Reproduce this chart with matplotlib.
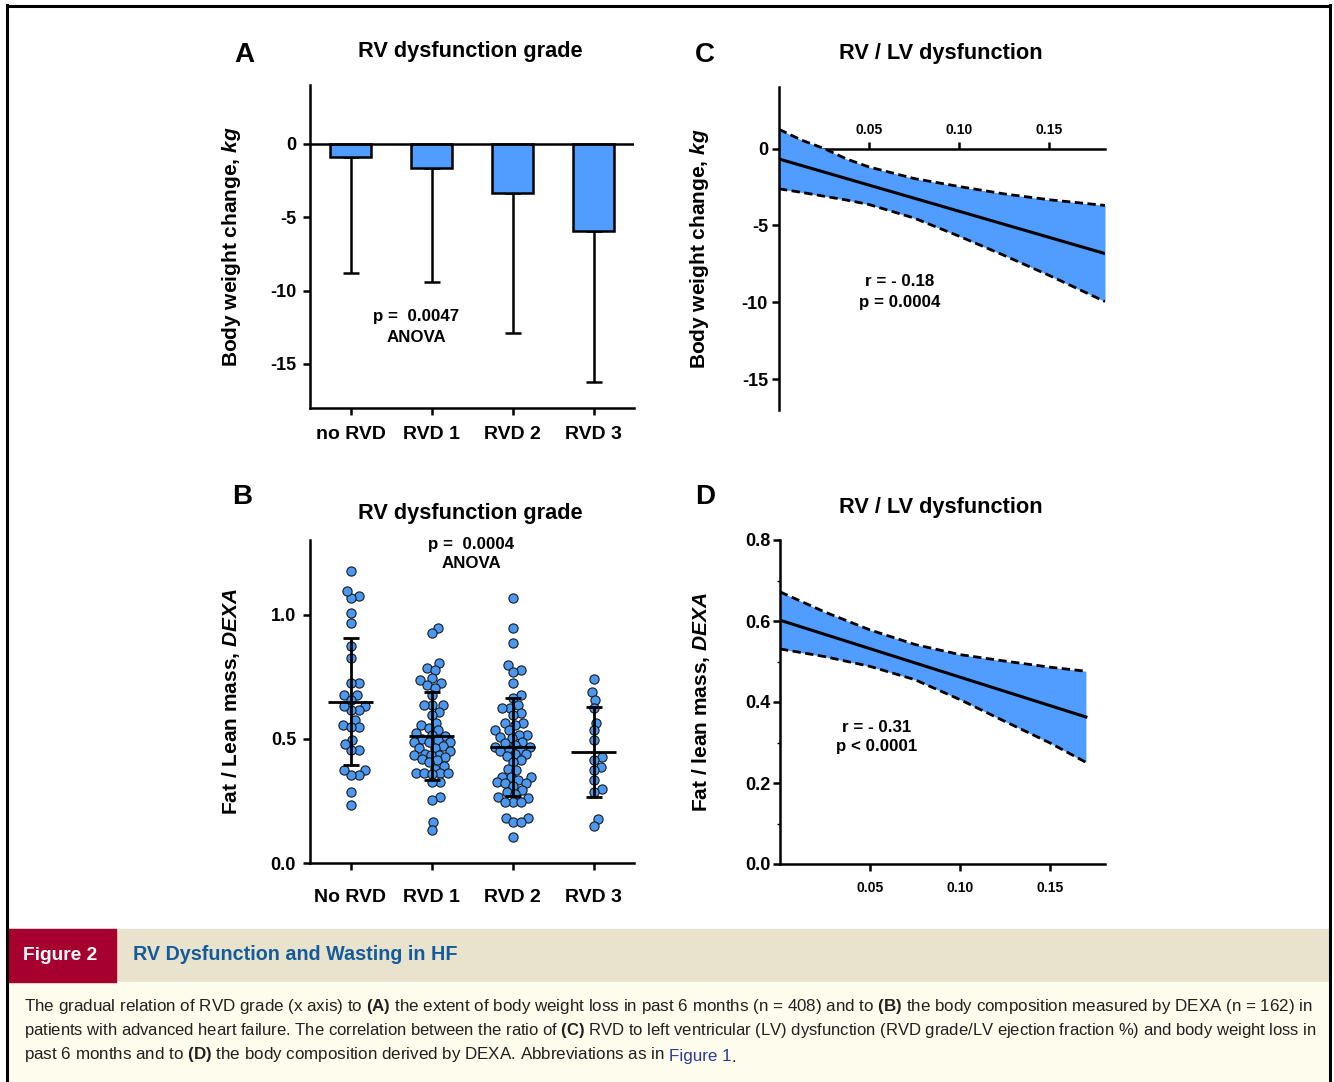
import numpy as np
import matplotlib.pyplot as plt
from matplotlib.lines import Line2D
from matplotlib.patches import Rectangle

W, H = 1334, 1082

plt.rcParams['font.family'] = ['Liberation Sans', 'DejaVu Sans']
plt.rcParams['font.weight'] = 'bold'
plt.rcParams['axes.labelweight'] = 'bold'
plt.rcParams['mathtext.fontset'] = 'custom'
plt.rcParams['mathtext.rm'] = 'Liberation Sans'
plt.rcParams['mathtext.bf'] = 'Liberation Sans:bold'
plt.rcParams['mathtext.it'] = 'Liberation Sans:italic:bold'
plt.rcParams['axes.unicode_minus'] = False

BLUE = '#519dff'
DOT = '#4a98f2'

# ---- data ----
# A: body weight change by RVD grade (mean, lower SD)
grades_a = ['no RVD', 'RVD 1', 'RVD 2', 'RVD 3']
wt_mean = [-0.93, -1.65, -3.35, -5.95]
wt_sd = [7.9, 7.75, 9.55, 10.25]

# B: fat / lean mass, individual patients
grades_b = ['No RVD', 'RVD 1', 'RVD 2', 'RVD 3']
fl_norvd = [1.174, 1.076, 1.066, 1.094, 1.005, 0.967, 0.874, 0.825, 0.724, 0.724,
            0.676, 0.676, 0.657, 0.633, 0.614, 0.614, 0.633, 0.574, 0.556, 0.546,
            0.546, 0.494, 0.454, 0.454, 0.477, 0.376, 0.356, 0.356, 0.373, 0.285, 0.233]
fl_rvd1 = [0.946, 0.925, 0.804, 0.786, 0.775, 0.746, 0.735, 0.726, 0.716, 0.706,
           0.676, 0.635, 0.635, 0.635, 0.606, 0.594, 0.565, 0.556, 0.545, 0.534,
           0.525, 0.514, 0.510, 0.500, 0.494, 0.485, 0.485, 0.485, 0.470, 0.463,
           0.463, 0.451, 0.440, 0.435, 0.435, 0.435, 0.427, 0.420, 0.414, 0.405,
           0.390, 0.380, 0.364, 0.364, 0.364, 0.364, 0.357, 0.324, 0.324, 0.264,
           0.253, 0.165, 0.133]
fl_rvd2 = [1.067, 0.946, 0.885, 0.795, 0.778, 0.768, 0.726, 0.675, 0.665, 0.635,
           0.625, 0.625, 0.604, 0.594, 0.563, 0.563, 0.554, 0.534, 0.534, 0.514,
           0.514, 0.507, 0.505, 0.487, 0.481, 0.474, 0.467, 0.467, 0.454, 0.454,
           0.450, 0.440, 0.440, 0.430, 0.414, 0.407, 0.380, 0.373, 0.347, 0.347,
           0.347, 0.333, 0.327, 0.322, 0.320, 0.310, 0.293, 0.286, 0.277, 0.264,
           0.260, 0.246, 0.246, 0.246, 0.183, 0.183, 0.166, 0.166, 0.103]
fl_rvd3 = [0.742, 0.688, 0.657, 0.625, 0.565, 0.534, 0.494, 0.425, 0.416, 0.387,
           0.373, 0.336, 0.296, 0.286, 0.177, 0.149]
fl_mean = [0.65, 0.513, 0.467, 0.446]
fl_sd = [0.255, 0.177, 0.197, 0.18]

# C: body weight change vs RV/LV ratio (fit + 95% band)
c_x = [0, 0.0125, 0.025, 0.0375, 0.05, 0.075, 0.10, 0.125, 0.15, 0.181]
c_upper = [1.25, 0.55, 0.0, -0.68, -1.20, -1.95, -2.47, -2.95, -3.33, -3.70]
c_lower = [-2.62, -2.85, -3.1, -3.35, -3.64, -4.52, -5.70, -6.95, -8.25, -9.95]
c_fit_x = [0, 0.181]
c_fit_y = [-0.68, -6.83]

# D: fat / lean mass vs RV/LV ratio
d_x = [0, 0.025, 0.05, 0.075, 0.10, 0.125, 0.15, 0.170]
d_upper = [0.672, 0.622, 0.578, 0.542, 0.517, 0.501, 0.486, 0.476]
d_lower = [0.531, 0.512, 0.488, 0.455, 0.406, 0.352, 0.299, 0.251]
d_fit_x = [0, 0.170]
d_fit_y = [0.602, 0.363]

caption = [
    r'The gradual relation of RVD grade (x axis) to $\mathbf{(A)}$ the extent of body '
    r'weight loss in past 6 months (n = 408) and to $\mathbf{(B)}$ the body composition '
    r'measured by DEXA (n = 162) in',
    r'patients with advanced heart failure. The correlation between the ratio of '
    r'$\mathbf{(C)}$ RVD to left ventricular (LV) dysfunction (RVD grade/LV ejection '
    r'fraction %) and body weight loss in',
    r'past 6 months and to $\mathbf{(D)}$ the body composition derived by DEXA. '
    r'Abbreviations as in',
]


def fx(x):
    return x / W


def fy(y):
    return 1 - y / H


def box(x0, y0, x1, y1):
    return [fx(x0), fy(y1), (x1 - x0) / W, (y1 - y0) / H]


def swarm(vals, ax, d=8.0, max_px=18):
    # beeswarm limited to +-max_px; when crowded, take the least overlapping slot
    t = ax.transData
    sx, sy = t.transform((1, 1)) - t.transform((0, 0))
    ys = np.asarray(vals) * sy
    cands = [0.0]
    k = 1
    while k * 0.5 <= max_px:
        cands += [k * 0.5, -k * 0.5]
        k += 1
    cands = np.array(cands)
    px, py = [], []
    off = np.zeros(len(vals))
    for i in np.argsort(ys):
        if not px:
            c = 0.0
        else:
            ax_ = np.array(px)
            ay_ = np.array(py)
            dist = np.sqrt((cands[:, None] - ax_[None, :]) ** 2 +
                           (ys[i] - ay_[None, :]) ** 2).min(axis=1)
            free = np.nonzero(dist >= d)[0]
            c = cands[free[0]] if len(free) else cands[np.argmax(dist)]
        off[i] = c
        px.append(c)
        py.append(ys[i])
    return off / sx


def style(ax):
    for s in ['top', 'right']:
        ax.spines[s].set_visible(False)
    for s in ax.spines.values():
        s.set_linewidth(1.8)
    ax.tick_params(width=1.8, length=5)


fig = plt.figure(figsize=(W / 100, H / 100), dpi=100)
pos = np.arange(4)
LAB = 15

# ---------- A ----------
axA = fig.add_axes(box(310, 85, 634, 408))
axA.bar(pos, wt_mean, width=0.5, color=BLUE, edgecolor='black', linewidth=1.8, zorder=3)
axA.errorbar(pos, wt_mean, yerr=[wt_sd, np.zeros(4)], fmt='none', ecolor='black',
             elinewidth=1.8, capsize=6, capthick=1.8, zorder=2)
axA.axhline(0, color='black', lw=1.8, zorder=4)
axA.set_xlim(-0.5, 3.5)
axA.set_ylim(-18, 4)
style(axA)
axA.set_yticks([0, -5, -10, -15], labels=['0', '-5', '-10', '-15'], fontsize=13)
axA.set_xticks(pos, labels=grades_a, fontsize=14)
axA.tick_params(axis='x', pad=8)
axA.tick_params(axis='y', pad=5)
axA.set_ylabel(r'Body weight change, $\mathit{kg}$', fontsize=LAB, fontweight='bold')
axA.yaxis.set_label_coords(-0.207, 0.5)

# ---------- B ----------
axB = fig.add_axes(box(310, 540, 634, 863))
axB.set_xlim(-0.5, 3.5)
axB.set_ylim(0, 1.3)
for i, vals in enumerate([fl_norvd, fl_rvd1, fl_rvd2, fl_rvd3]):
    offs = swarm(vals, axB)
    axB.scatter(i + offs, vals, s=44, color=DOT, edgecolor='#1a1a1a', linewidth=0.8,
                zorder=3)
axB.errorbar(pos, fl_mean, yerr=fl_sd, fmt='none', ecolor='black', elinewidth=2,
             capsize=6, capthick=2, zorder=4)
axB.hlines(fl_mean, pos - 0.28, pos + 0.28, color='black', lw=2, zorder=4)
style(axB)
axB.set_yticks([0, 0.5, 1.0], labels=['0.0', '0.5', '1.0'], fontsize=13)
axB.set_xticks(pos, labels=grades_b, fontsize=14)
axB.tick_params(axis='x', pad=14)
axB.tick_params(axis='y', pad=5)
axB.set_ylabel(r'Fat / Lean mass, $\mathit{DEXA}$', fontsize=LAB, fontweight='bold')
axB.yaxis.set_label_coords(-0.21, 0.5)

# ---------- C ----------
axC = fig.add_axes(box(779, 87, 1105, 410))
axC.fill_between(c_x, c_lower, c_upper, color=BLUE, lw=0, zorder=3)
axC.plot(c_x, c_upper, color='black', lw=2, ls=(0, (3, 1.6)), zorder=4)
axC.plot(c_x, c_lower, color='black', lw=2, ls=(0, (3, 1.6)), zorder=4)
axC.plot(c_fit_x, c_fit_y, color='black', lw=2.2, zorder=5)
axC.set_xlim(0, 0.181)
axC.set_ylim(-17, 4)
for s in axC.spines.values():
    s.set_linewidth(1.8)
axC.spines['right'].set_visible(False)
axC.spines['bottom'].set_visible(False)
axC.spines['top'].set_position(('data', 0))
axC.spines['left'].set_zorder(6)
axC.xaxis.set_ticks_position('top')
axC.tick_params(width=1.8, length=5)
axC.set_xticks([0.05, 0.10, 0.15], labels=['0.05', '0.10', '0.15'], fontsize=10)
axC.tick_params(axis='x', pad=3)
axC.set_yticks([0, -5, -10, -15], labels=['0', '-5', '-10', '-15'], fontsize=13)
axC.tick_params(axis='y', pad=3)
axC.set_ylabel(r'Body weight change, $\mathit{kg}$', fontsize=LAB, fontweight='bold')
axC.yaxis.set_label_coords(-0.209, 0.5)

# ---------- D ----------
axD = fig.add_axes(box(780, 540, 1105, 864))
axD.fill_between(d_x, d_lower, d_upper, color=BLUE, lw=0, zorder=3)
axD.plot(d_x, d_upper, color='black', lw=2, ls=(0, (3, 1.6)), zorder=4)
axD.plot(d_x, d_lower, color='black', lw=2, ls=(0, (3, 1.6)), zorder=4)
axD.plot(d_fit_x, d_fit_y, color='black', lw=2.2, zorder=5)
axD.set_xlim(0, 0.1806)
axD.set_ylim(0, 0.8)
style(axD)
axD.spines['left'].set_zorder(6)
axD.set_xticks([0.05, 0.10, 0.15], labels=['0.05', '0.10', '0.15'], fontsize=10)
axD.tick_params(axis='x', pad=7)
axD.set_yticks([0, 0.2, 0.4, 0.6, 0.8], labels=['0.0', '0.2', '0.4', '0.6', '0.8'],
               fontsize=13)
axD.set_yticks([0.1, 0.3, 0.5, 0.7], minor=True)
axD.tick_params(axis='y', which='minor', length=2.5, width=1)
axD.tick_params(axis='y', pad=2)
axD.set_ylabel(r'Fat / lean mass, $\mathit{DEXA}$', fontsize=LAB, fontweight='bold')
axD.yaxis.set_label_coords(-0.209, 0.5)

# ---------- panel letters, titles, stats ----------
for letter, x, y in [('A', 244, 55), ('B', 242, 497), ('C', 705, 55), ('D', 705, 497)]:
    fig.text(fx(x), fy(y), letter, fontsize=20, ha='center', va='center')
for title, x, y in [('RV dysfunction grade', 470, 52), ('RV dysfunction grade', 470, 514),
                    ('RV / LV dysfunction', 941, 54), ('RV / LV dysfunction', 941, 508)]:
    fig.text(fx(x), fy(y), title, fontsize=15.7, ha='center', va='center')
for txt, x, y in [('p =  0.0047', 416, 317), ('ANOVA', 416, 337),
                  ('p =  0.0004', 471, 545), ('ANOVA', 471, 564),
                  ('r = - 0.18', 900, 282), ('p = 0.0004', 900, 302),
                  ('r = - 0.31', 877, 727), ('p < 0.0001', 877, 747)]:
    fig.text(fx(x), fy(y), txt, fontsize=12.2, ha='center', va='center')

# ---------- caption ----------
fig.add_artist(Rectangle((fx(8), fy(982)), (1330 - 8) / W, 53 / H, color='#e9e2cc',
                         transform=fig.transFigure, zorder=0))
fig.add_artist(Rectangle((fx(8), fy(982)), (116 - 8) / W, 53 / H, color='#a6002f',
                         transform=fig.transFigure, zorder=1))
fig.add_artist(Rectangle((fx(8), 0), (1330 - 8) / W, (1082 - 982) / H, color='#fefcec',
                         transform=fig.transFigure, zorder=0))
fig.text(fx(23), fy(955), 'Figure 2', color='white', fontsize=13.8, va='center')
fig.text(fx(133), fy(955), 'RV Dysfunction and Wasting in HF', color='#135b9b',
         fontsize=14.2, va='center')

# first two lines are stretched to the full text width (1290 px), like justified text
renderer = fig.canvas.get_renderer()
cap_kw = dict(fontweight='normal', color='#231f20', va='center')
cap_texts = []
for line, y in zip(caption, [1007, 1031, 1055]):
    cap_texts.append(fig.text(fx(24), fy(y), line, fontsize=12, **cap_kw))
sizes = []
for t in cap_texts[:2]:
    wpx = t.get_window_extent(renderer).width
    sizes.append(12 * 1290 / wpx)
    t.set_fontsize(sizes[-1])
cap_texts[2].set_fontsize(sizes[0])
bg = fig.add_axes([0, 0, 1, 1], zorder=5)
bg.axis('off')
t4 = bg.annotate('Figure 1', xy=(1, 0), xycoords=cap_texts[2], xytext=(3.4, 0),
                 textcoords='offset points', va='bottom', fontsize=sizes[0],
                 fontweight='normal', color='#2b3a9a')
bg.annotate('.', xy=(1, 0), xycoords=t4, va='bottom', fontsize=sizes[0],
            fontweight='normal', color='#231f20')

# ---------- frame ----------
fig.add_artist(Line2D([fx(7), fx(7)], [fy(5), 0], color='black', lw=2.2))
fig.add_artist(Line2D([fx(7), fx(1330)], [fy(5.5), fy(5.5)], color='black', lw=2.2))
fig.add_artist(Line2D([fx(1330), fx(1330)], [fy(5), 0], color='black', lw=2.2))

fig.savefig('out.png', dpi=100)
